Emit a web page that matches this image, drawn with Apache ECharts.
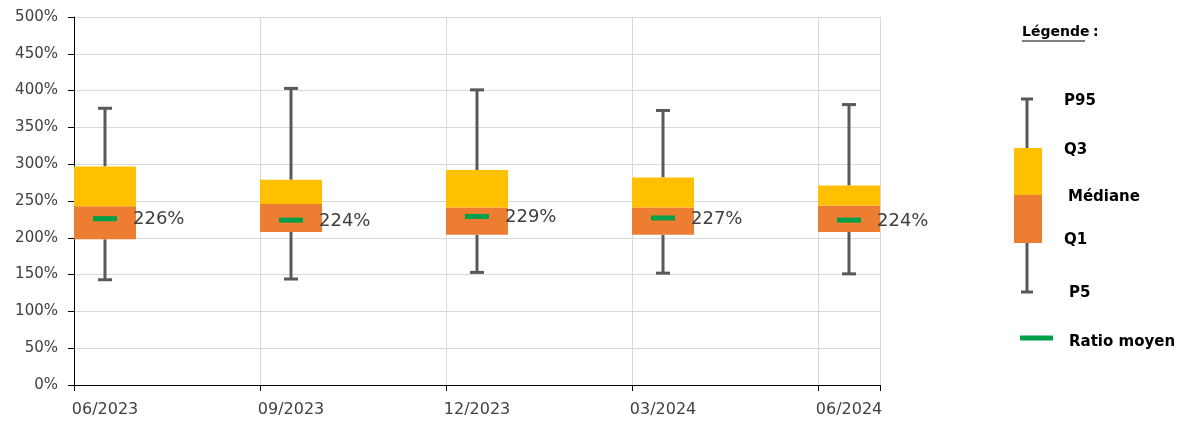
<!DOCTYPE html>
<html><head><meta charset="utf-8">
<script src="https://cdn.jsdelivr.net/npm/echarts@6/dist/echarts.min.js"></script>
<style>html,body{margin:0;padding:0;background:#fff}#c{width:1185px;height:426px}</style>
</head><body><div id="c"></div>
<script>
// ---- Data ----
const categories = ['06/2023', '09/2023', '12/2023', '03/2024', '06/2024'];
const p5     = [143, 144, 153, 152, 151];
const q1     = [198, 208, 204, 204, 208];
const median = [243, 246, 241, 241, 244];
const q3     = [297, 279, 292, 282, 271];
const p95    = [376, 403, 401, 373, 381];
const mean   = [226, 224, 229, 227, 224];
const yMin = 0, yMax = 500, yStep = 50;

// Monthly date axis: each category is a quarter-end month; boxes fill one month band.
const monthsPerStep = 3;
const axisSlots = (categories.length - 1) * monthsPerStep + 1;
const axisCategories = Array.from({length: axisSlots}, (_, i) =>
  i % monthsPerStep === 0 ? categories[i / monthsPerStep] : '');
const seriesData = categories.map((c, i) =>
  [i * monthsPerStep, p5[i], q1[i], median[i], q3[i], p95[i], mean[i]]);

const FONT = '"DejaVu Sans", sans-serif';
const WHISKER = '#595959', ORANGE = '#ED7D31', GOLD = '#FFC000', GREEN = '#00A04A';

const chart = echarts.init(document.getElementById('c'), null, {renderer: 'canvas'});
chart.setOption({
  animation: false,
  backgroundColor: '#fff',
  grid: {left: 74, right: 305, top: 17, bottom: 41, containLabel: false},
  xAxis: {
    type: 'category',
    data: axisCategories,
    boundaryGap: true,
    axisLine: {lineStyle: {color: '#000', width: 1}},
    axisTick: {show: true, interval: monthsPerStep - 1, length: 6, lineStyle: {color: '#000'}},
    axisLabel: {interval: 0, margin: 17, color: '#404040', fontSize: 16, fontFamily: FONT},
    splitLine: {show: true, interval: monthsPerStep - 1, lineStyle: {color: '#d9d9d9', width: 1}}
  },
  yAxis: {
    type: 'value', min: yMin, max: yMax, interval: yStep,
    axisLine: {show: true, lineStyle: {color: '#000', width: 1}},
    axisTick: {show: true, length: 6, lineStyle: {color: '#000'}},
    axisLabel: {formatter: v => v + '%', margin: 16, color: '#404040', fontSize: 15, fontFamily: FONT},
    splitLine: {show: true, lineStyle: {color: '#d9d9d9', width: 1}}
  },
  series: [{
    type: 'custom',
    data: seriesData,
    encode: {x: 0, y: [1, 2, 3, 4, 5, 6]},
    clip: false,
    renderItem: function (params, api) {
      const xi = api.value(0);
      const band = api.size([1, 0])[0];
      const cx = api.coord([xi, 0])[0];
      const y = k => api.coord([xi, api.value(k)])[1];
      const yP5 = y(1), yQ1 = y(2), yMed = y(3), yQ3 = y(4), yP95 = y(5), yMean = y(6);
      const x0 = cx - band / 2;
      const ws = {stroke: WHISKER, lineWidth: 3};
      return {type: 'group', children: [
        {type: 'line', shape: {x1: cx, y1: yP5, x2: cx, y2: yQ1}, style: ws},
        {type: 'line', shape: {x1: cx, y1: yQ3, x2: cx, y2: yP95}, style: ws},
        {type: 'line', shape: {x1: cx - 7, y1: yP95, x2: cx + 7, y2: yP95}, style: ws},
        {type: 'line', shape: {x1: cx - 7, y1: yP5, x2: cx + 7, y2: yP5}, style: ws},
        {type: 'rect', shape: {x: x0, y: yMed, width: band, height: yQ1 - yMed}, style: {fill: ORANGE}},
        {type: 'rect', shape: {x: x0, y: yQ3, width: band, height: yMed - yQ3}, style: {fill: GOLD}},
        {type: 'line', shape: {x1: cx - 12, y1: yMean, x2: cx + 12, y2: yMean}, style: {stroke: GREEN, lineWidth: 5}},
        {type: 'text', x: x0 + band - 3, y: yMean + 1,
          style: {text: api.value(6) + '%', fill: '#404040', fontSize: 18, fontFamily: FONT,
                  align: 'left', verticalAlign: 'middle'}}
      ]};
    }
  }],
  graphic: [
    {type: 'text', left: 1022, top: 25, style: {text: 'Légende', fill: '#000', font: 'bold 14px ' + FONT}},
    {type: 'line', shape: {x1: 1022, y1: 41, x2: 1085, y2: 41}, style: {stroke: '#000', lineWidth: 1}},
    {type: 'text', left: 1093, top: 25, style: {text: ':', fill: '#000', font: 'bold 14px ' + FONT}},
    {type: 'line', shape: {x1: 1027, y1: 99, x2: 1027, y2: 292}, style: {stroke: WHISKER, lineWidth: 3}},
    {type: 'line', shape: {x1: 1021, y1: 99, x2: 1033, y2: 99}, style: {stroke: WHISKER, lineWidth: 3}},
    {type: 'line', shape: {x1: 1021, y1: 292, x2: 1033, y2: 292}, style: {stroke: WHISKER, lineWidth: 3}},
    {type: 'rect', shape: {x: 1014, y: 148, width: 28, height: 47}, style: {fill: GOLD}},
    {type: 'rect', shape: {x: 1014, y: 195, width: 28, height: 48}, style: {fill: ORANGE}},
    {type: 'line', shape: {x1: 1020, y1: 338, x2: 1053, y2: 338}, style: {stroke: GREEN, lineWidth: 5}},
    {type: 'text', x: 1064, y: 101, style: {text: 'P95', fill: '#000', font: 'bold 15px ' + FONT, verticalAlign: 'middle'}},
    {type: 'text', x: 1064, y: 150, style: {text: 'Q3', fill: '#000', font: 'bold 15px ' + FONT, verticalAlign: 'middle'}},
    {type: 'text', x: 1068, y: 197, style: {text: 'Médiane', fill: '#000', font: 'bold 15px ' + FONT, verticalAlign: 'middle'}},
    {type: 'text', x: 1064, y: 240, style: {text: 'Q1', fill: '#000', font: 'bold 15px ' + FONT, verticalAlign: 'middle'}},
    {type: 'text', x: 1069, y: 293, style: {text: 'P5', fill: '#000', font: 'bold 15px ' + FONT, verticalAlign: 'middle'}},
    {type: 'text', x: 1069, y: 342, style: {text: 'Ratio moyen', fill: '#000', font: 'bold 15px ' + FONT, verticalAlign: 'middle'}}
  ]
});
</script>
</body></html>
